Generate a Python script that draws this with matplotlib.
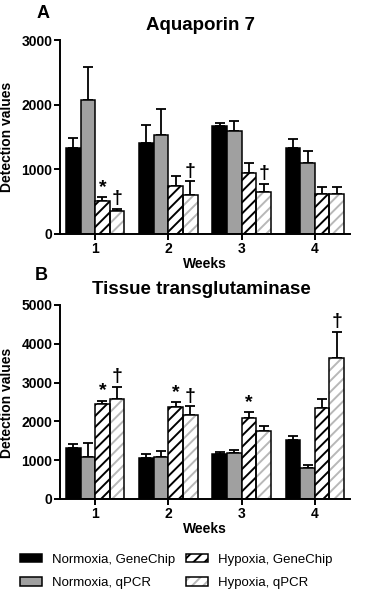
import numpy as np
import matplotlib.pyplot as plt
from matplotlib.patches import Patch
from matplotlib.legend_handler import HandlerTuple

plt.rcParams['font.family'] = ['Liberation Sans', 'DejaVu Sans']
plt.rcParams['hatch.linewidth'] = 1.4

weeks = [1, 2, 3, 4]
week_labels = ['1', '2', '3', '4']
series = ['Normoxia, GeneChip', 'Normoxia, qPCR', 'Hypoxia, GeneChip', 'Hypoxia, qPCR']

# Panel A - Aquaporin 7 (mean, upper error)
aqp_norm_chip = [1335, 1410, 1675, 1325]
aqp_norm_chip_err = [145, 280, 45, 140]
aqp_norm_qpcr = [2070, 1530, 1600, 1095]
aqp_norm_qpcr_err = [520, 405, 150, 195]
aqp_hyp_chip = [505, 735, 945, 615]
aqp_hyp_chip_err = [60, 165, 155, 115]
aqp_hyp_qpcr = [360, 605, 655, 620]
aqp_hyp_qpcr_err = [30, 210, 120, 110]
aqp_marks = [(1, 2, '*'), (1, 3, '\u2020'), (2, 3, '\u2020'), (3, 3, '\u2020')]

# Panel B - Tissue transglutaminase
tg_norm_chip = [1315, 1060, 1170, 1515]
tg_norm_chip_err = [110, 110, 35, 120]
tg_norm_qpcr = [1075, 1075, 1190, 800]
tg_norm_qpcr_err = [370, 160, 75, 85]
tg_hyp_chip = [2455, 2375, 2085, 2340]
tg_hyp_chip_err = [75, 120, 145, 250]
tg_hyp_qpcr = [2580, 2170, 1745, 3625]
tg_hyp_qpcr_err = [315, 220, 145, 685]
tg_marks = [(1, 2, '*'), (1, 3, '\u2020'), (2, 2, '*'), (2, 3, '\u2020'),
            (3, 2, '*'), (4, 3, '\u2020')]

# face colour, hatch, hatch colour
styles = [('black', None, 'black'),
          ('#a0a0a0', None, 'black'),
          ('white', '///', 'black'),
          ('white', '///', '#b8b8b8')]
offsets = [-0.3, -0.1, 0.1, 0.3]
width = 0.2


def draw_panel(ax, means, errs, ymax, step, marks):
    x = np.array(weeks, dtype=float)
    for i in range(4):
        xi = x + offsets[i]
        face, hatch, hc = styles[i]
        ax.errorbar(xi, means[i], yerr=[np.zeros(4), errs[i]], fmt='none',
                    ecolor='black', elinewidth=1.3, capsize=3.5, capthick=1.3, zorder=1)
        if hatch:
            ax.bar(xi, means[i], width, color=face, edgecolor=hc, hatch=hatch, lw=0, zorder=2)
            ax.bar(xi, means[i], width, fill=False, edgecolor='black', lw=1.1, zorder=3)
        else:
            ax.bar(xi, means[i], width, color=face, edgecolor='black', lw=1.1, zorder=2)
    for wk, s, sym in marks:
        top = means[s][wk - 1] + errs[s][wk - 1]
        ax.annotate(sym, (wk + offsets[s], top), xytext=(0, 1), textcoords='offset points',
                    ha='center', va='bottom', fontsize=14, fontweight='bold')
    ax.set_xlim(0.52, 4.48)
    ax.set_ylim(0, ymax)
    ax.set_yticks(np.arange(0, ymax + 1, step))
    ax.set_xticks(weeks)
    ax.set_xticklabels(week_labels)
    for sp in ['top', 'right']:
        ax.spines[sp].set_visible(False)
    for sp in ['left', 'bottom']:
        ax.spines[sp].set_linewidth(1.4)
    ax.tick_params(width=1.4, length=4, labelsize=10, pad=1.5)
    for lab in ax.get_xticklabels() + ax.get_yticklabels():
        lab.set_fontweight('bold')
    ax.set_xlabel('Weeks', fontsize=10, fontweight='bold', labelpad=1)


fig = plt.figure(figsize=(3.7, 5.95), dpi=100)
W, H = 370, 595

axA = fig.add_axes([60 / W, 1 - 234 / H, 290 / W, 194 / H])
draw_panel(axA,
           [aqp_norm_chip, aqp_norm_qpcr, aqp_hyp_chip, aqp_hyp_qpcr],
           [aqp_norm_chip_err, aqp_norm_qpcr_err, aqp_hyp_chip_err, aqp_hyp_qpcr_err],
           3000, 1000, aqp_marks)

axB = fig.add_axes([60 / W, 1 - 499 / H, 290 / W, 194 / H])
draw_panel(axB,
           [tg_norm_chip, tg_norm_qpcr, tg_hyp_chip, tg_hyp_qpcr],
           [tg_norm_chip_err, tg_norm_qpcr_err, tg_hyp_chip_err, tg_hyp_qpcr_err],
           5000, 1000, tg_marks)

fig.text(200 / W, 1 - 25 / H, 'Aquaporin 7', ha='center', va='center', fontsize=13.5, fontweight='bold')
fig.text(201 / W, 1 - 290 / H, 'Tissue transglutaminase', ha='center', va='center', fontsize=13.5, fontweight='bold')
fig.text(43 / W, 1 - 13 / H, 'A', ha='center', va='center', fontsize=13, fontweight='bold')
fig.text(41 / W, 1 - 275 / H, 'B', ha='center', va='center', fontsize=13, fontweight='bold')
fig.text(7 / W, 1 - 137 / H, 'Detection values', rotation=90, ha='center', va='center', fontsize=10, fontweight='bold')
fig.text(7 / W, 1 - 403 / H, 'Detection values', rotation=90, ha='center', va='center', fontsize=10, fontweight='bold')

handles = []
for face, hatch, hc in styles:
    if hatch:
        handles.append((Patch(facecolor=face, edgecolor=hc, hatch=hatch, lw=0),
                        Patch(fill=False, edgecolor='black', lw=1.1)))
    else:
        handles.append(Patch(facecolor=face, edgecolor='black', lw=1.1))

fig.legend(handles, series, ncol=2, loc='upper left', bbox_to_anchor=(8 / W, 1 - 542 / H),
           frameon=False, fontsize=9.5, handlelength=1.65, handleheight=0.6,
           handletextpad=0.8, columnspacing=0.8, labelspacing=0.85,
           handler_map={tuple: HandlerTuple(ndivide=1)})

fig.savefig('out.png', dpi=100)
